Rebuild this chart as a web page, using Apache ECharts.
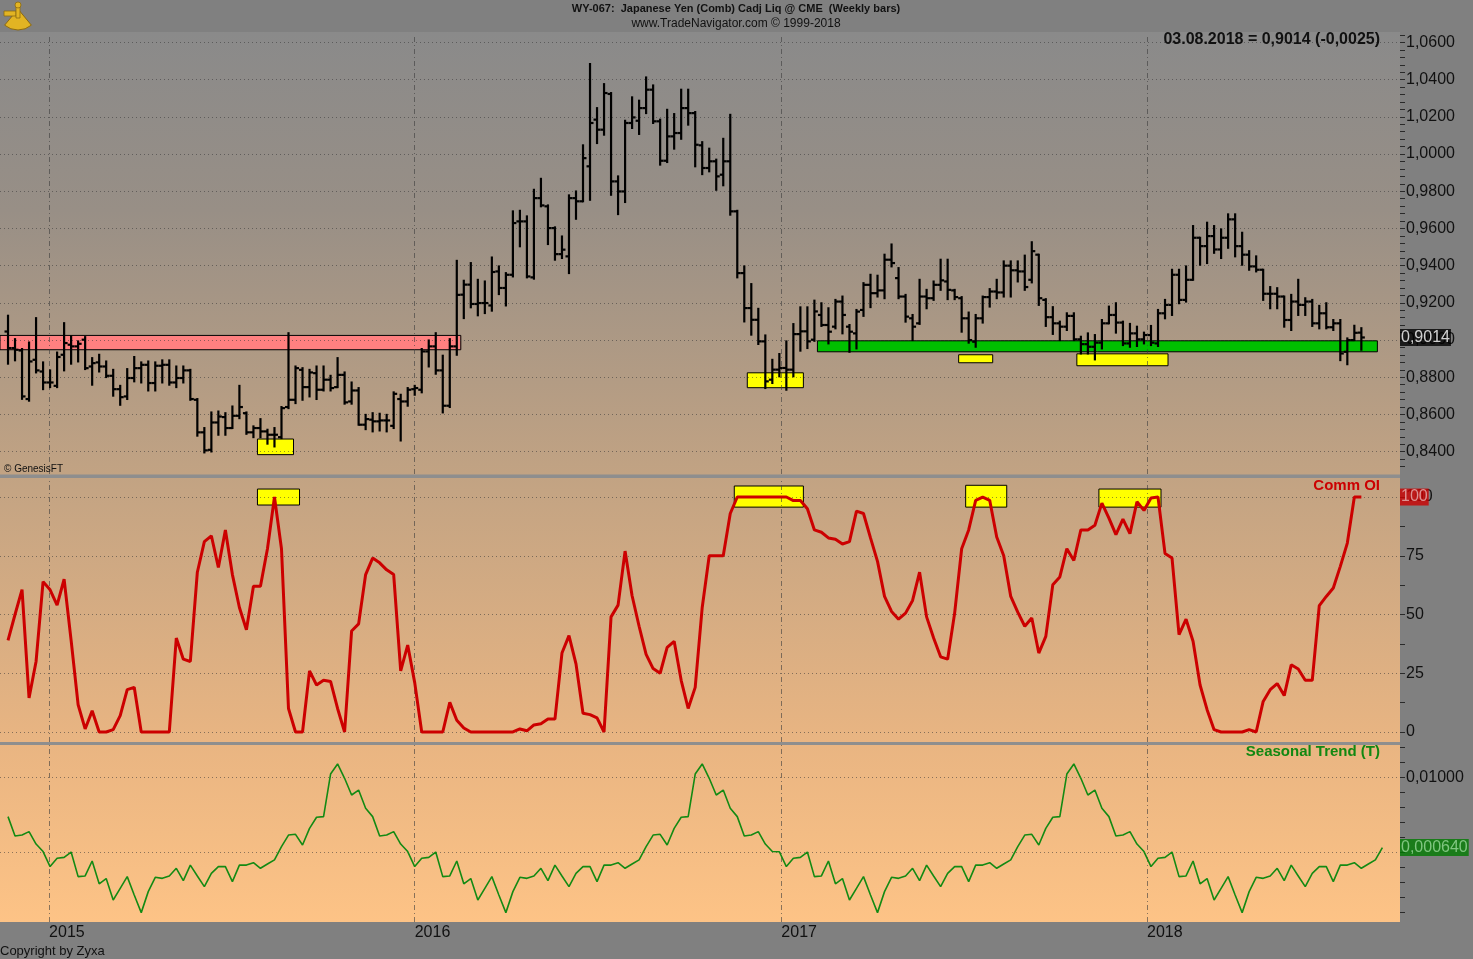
<!DOCTYPE html>
<html>
<head>
<meta charset="utf-8">
<title>WY-067 Japanese Yen (Comb) Cadj Liq @ CME</title>
<script src="https://cdn.jsdelivr.net/npm/echarts@6.0.0/dist/echarts.min.js"></script>
<style>
  html, body { margin: 0; padding: 0; background: #808080; }
  #chart { width: 1473px; height: 959px; }
</style>
</head>
<body>
<div id="chart"></div>
<script>
// weekly bars, first bar on this Friday
var firstWeek = '2014-11-21';

var open = [
  0.9046, 0.8957, 0.8944, 0.8683, 0.8894, 0.8831, 0.8772, 0.8754, 0.8921, 0.8975,
  0.8966, 0.9002, 0.8858, 0.8880, 0.8858, 0.8808, 0.8736, 0.8697, 0.8796, 0.8849,
  0.8867, 0.8769, 0.8862, 0.8867, 0.8772, 0.8796, 0.8837, 0.8679, 0.8504, 0.8410,
  0.8557, 0.8586, 0.8527, 0.8593, 0.8607, 0.8504, 0.8527, 0.8509, 0.8491, 0.8478,
  0.8640, 0.8679, 0.8840, 0.8747, 0.8822, 0.8733, 0.8787, 0.8747, 0.8813, 0.8670,
  0.8729, 0.8545, 0.8572, 0.8563, 0.8568, 0.8539, 0.8683, 0.8670, 0.8736, 0.8733,
  0.8939, 0.8966, 0.8837, 0.8647, 0.8966, 0.9244, 0.9298, 0.9194, 0.9199, 0.9186,
  0.9369, 0.9280, 0.9351, 0.9638, 0.9638, 0.9337, 0.9763, 0.9719, 0.9602, 0.9462,
  0.9450, 0.9763, 0.9746, 0.9934, 1.0185, 1.0131, 1.0323, 0.9853, 0.9799, 1.0167,
  1.0179, 1.0247, 1.0346, 1.0176, 0.9964, 1.0095, 1.0113, 1.0247, 1.0220, 1.0047,
  0.9925, 0.9961, 0.9889, 0.9961, 0.9692, 0.9360, 0.9172, 0.9109, 0.8993, 0.8787,
  0.8841, 0.8850, 0.8841, 0.9032, 0.9047, 0.9002, 0.9135, 0.9081, 0.9072, 0.9207,
  0.9072, 0.9036, 0.9162, 0.9297, 0.9252, 0.9267, 0.9432, 0.9333, 0.9234, 0.9117,
  0.9090, 0.9234, 0.9225, 0.9297, 0.9315, 0.9267, 0.9225, 0.9117, 0.8991, 0.9117,
  0.9231, 0.9261, 0.9256, 0.9400, 0.9375, 0.9369, 0.9324, 0.9459, 0.9216, 0.9123,
  0.9090, 0.9072, 0.9130, 0.9004, 0.8978, 0.8964, 0.8986, 0.9090, 0.9135, 0.9094,
  0.8982, 0.9036, 0.9004, 0.9027, 0.8982, 0.9144, 0.9189, 0.9351, 0.9216, 0.9324,
  0.9550, 0.9505, 0.9559, 0.9487, 0.9550, 0.9649, 0.9505, 0.9459, 0.9396, 0.9378,
  0.9249, 0.9249, 0.9234, 0.9108, 0.9207, 0.9189, 0.9207, 0.9090, 0.9144, 0.9069,
  0.9090, 0.8937, 0.9000, 0.9040
];
var high = [
  0.9131, 0.9005, 0.8952, 0.8987, 0.9118, 0.8880, 0.8837, 0.8933, 0.9091, 0.9020,
  0.8993, 0.9016, 0.8903, 0.8921, 0.8885, 0.8840, 0.8754, 0.8844, 0.8909, 0.8880,
  0.8885, 0.8880, 0.8891, 0.8891, 0.8858, 0.8858, 0.8840, 0.8683, 0.8527, 0.8611,
  0.8616, 0.8607, 0.8643, 0.8754, 0.8611, 0.8536, 0.8575, 0.8518, 0.8527, 0.8640,
  0.9037, 0.8858, 0.8849, 0.8840, 0.8858, 0.8858, 0.8808, 0.8903, 0.8826, 0.8772,
  0.8742, 0.8598, 0.8607, 0.8604, 0.8598, 0.8719, 0.8706, 0.8742, 0.8754, 0.8952,
  0.8998, 0.9037, 0.8916, 0.9005, 0.9426, 0.9319, 0.9414, 0.9324, 0.9315, 0.9444,
  0.9396, 0.9360, 0.9692, 0.9695, 0.9665, 0.9808, 0.9867, 0.9724, 0.9606, 0.9557,
  0.9778, 0.9799, 1.0047, 1.0484, 1.0247, 1.0376, 1.0328, 0.9880, 1.0179, 1.0305,
  1.0287, 1.0412, 1.0369, 1.0185, 1.0238, 1.0215, 1.0346, 1.0346, 1.0226, 1.0064,
  1.0029, 0.9970, 1.0082, 1.0211, 0.9695, 0.9396, 0.9301, 0.9168, 0.9025, 0.8894,
  0.8925, 0.8993, 0.9086, 0.9176, 0.9176, 0.9212, 0.9198, 0.9171, 0.9216, 0.9234,
  0.9081, 0.9162, 0.9306, 0.9351, 0.9346, 0.9459, 0.9514, 0.9387, 0.9243, 0.9135,
  0.9324, 0.9270, 0.9315, 0.9432, 0.9432, 0.9270, 0.9231, 0.9148, 0.9135, 0.9234,
  0.9274, 0.9324, 0.9423, 0.9423, 0.9423, 0.9454, 0.9526, 0.9459, 0.9220, 0.9177,
  0.9099, 0.9144, 0.9144, 0.9018, 0.9036, 0.9027, 0.9108, 0.9180, 0.9198, 0.9099,
  0.9087, 0.9072, 0.9040, 0.9076, 0.9162, 0.9216, 0.9378, 0.9378, 0.9396, 0.9613,
  0.9550, 0.9631, 0.9613, 0.9595, 0.9676, 0.9676, 0.9577, 0.9478, 0.9450, 0.9378,
  0.9285, 0.9279, 0.9234, 0.9243, 0.9324, 0.9225, 0.9216, 0.9184, 0.9198, 0.9108,
  0.9108, 0.9009, 0.9077, 0.9064
];
var low = [
  0.8873, 0.8891, 0.8684, 0.8674, 0.8826, 0.8736, 0.8747, 0.8747, 0.8837, 0.8873,
  0.8885, 0.8844, 0.8760, 0.8831, 0.8801, 0.8701, 0.8652, 0.8683, 0.8778, 0.8772,
  0.8729, 0.8729, 0.8772, 0.8760, 0.8747, 0.8772, 0.8679, 0.8486, 0.8396, 0.8401,
  0.8491, 0.8491, 0.8527, 0.8580, 0.8496, 0.8478, 0.8478, 0.8443, 0.8428, 0.8473,
  0.8634, 0.8661, 0.8679, 0.8697, 0.8683, 0.8729, 0.8729, 0.8747, 0.8658, 0.8658,
  0.8545, 0.8521, 0.8509, 0.8514, 0.8509, 0.8527, 0.8460, 0.8647, 0.8706, 0.8719,
  0.8858, 0.8819, 0.8611, 0.8640, 0.8921, 0.9118, 0.9176, 0.9133, 0.9145, 0.9158,
  0.9247, 0.9186, 0.9342, 0.9504, 0.9337, 0.9330, 0.9719, 0.9516, 0.9432, 0.9441,
  0.9360, 0.9652, 0.9746, 0.9754, 1.0059, 1.0104, 0.9781, 0.9677, 0.9742, 1.0140,
  1.0108, 1.0220, 1.0167, 0.9943, 0.9957, 1.0029, 1.0082, 1.0158, 0.9934, 0.9892,
  0.9907, 0.9808, 0.9832, 0.9674, 0.9337, 0.9100, 0.9029, 0.8979, 0.8742, 0.8769,
  0.8805, 0.8733, 0.8805, 0.8943, 0.8957, 0.8996, 0.9076, 0.8982, 0.9063, 0.9036,
  0.8937, 0.8955, 0.9130, 0.9177, 0.9234, 0.9225, 0.9396, 0.9225, 0.9099, 0.9000,
  0.9087, 0.9171, 0.9216, 0.9270, 0.9220, 0.9220, 0.9045, 0.8986, 0.8964, 0.9094,
  0.9180, 0.9225, 0.9234, 0.9234, 0.9315, 0.9270, 0.9310, 0.9189, 0.9076, 0.9033,
  0.9000, 0.9054, 0.9000, 0.8928, 0.8928, 0.8896, 0.8955, 0.9090, 0.9040, 0.8973,
  0.8964, 0.8968, 0.8982, 0.8973, 0.8968, 0.9117, 0.9135, 0.9198, 0.9207, 0.9324,
  0.9405, 0.9414, 0.9469, 0.9441, 0.9496, 0.9450, 0.9405, 0.9378, 0.9369, 0.9216,
  0.9171, 0.9171, 0.9072, 0.9054, 0.9135, 0.9135, 0.9076, 0.9063, 0.9063, 0.9054,
  0.8892, 0.8870, 0.9000, 0.8948
];
var close = [
  0.8957, 0.8948, 0.8697, 0.8885, 0.8837, 0.8772, 0.8772, 0.8909, 0.8984, 0.8966,
  0.8980, 0.8849, 0.8876, 0.8858, 0.8808, 0.8736, 0.8693, 0.8796, 0.8849, 0.8867,
  0.8769, 0.8862, 0.8867, 0.8772, 0.8796, 0.8837, 0.8683, 0.8504, 0.8407, 0.8557,
  0.8589, 0.8527, 0.8593, 0.8640, 0.8504, 0.8527, 0.8509, 0.8491, 0.8491, 0.8634,
  0.8679, 0.8849, 0.8747, 0.8826, 0.8733, 0.8787, 0.8742, 0.8813, 0.8665, 0.8729,
  0.8545, 0.8575, 0.8563, 0.8568, 0.8568, 0.8711, 0.8670, 0.8733, 0.8742, 0.8939,
  0.8966, 0.8837, 0.8647, 0.8966, 0.9243, 0.9298, 0.9194, 0.9199, 0.9199, 0.9366,
  0.9280, 0.9351, 0.9629, 0.9638, 0.9342, 0.9763, 0.9724, 0.9602, 0.9462, 0.9486,
  0.9763, 0.9746, 0.9978, 1.0167, 1.0131, 1.0328, 0.9853, 0.9799, 1.0167, 1.0197,
  1.0247, 1.0346, 1.0176, 0.9964, 1.0095, 1.0113, 1.0247, 1.0220, 1.0050, 0.9925,
  0.9961, 0.9880, 0.9961, 0.9692, 0.9360, 0.9172, 0.9109, 0.8993, 0.8778, 0.8841,
  0.8850, 0.8841, 0.9032, 0.9047, 0.8993, 0.9154, 0.9081, 0.9045, 0.9207, 0.9135,
  0.9045, 0.9153, 0.9297, 0.9252, 0.9267, 0.9432, 0.9414, 0.9234, 0.9126, 0.9072,
  0.9234, 0.9225, 0.9297, 0.9321, 0.9270, 0.9231, 0.9117, 0.9000, 0.9117, 0.9231,
  0.9261, 0.9256, 0.9400, 0.9375, 0.9369, 0.9285, 0.9478, 0.9225, 0.9123, 0.9090,
  0.9072, 0.9130, 0.9004, 0.8978, 0.8964, 0.8986, 0.9090, 0.9135, 0.9094, 0.8982,
  0.9036, 0.9004, 0.9027, 0.8986, 0.9144, 0.9189, 0.9351, 0.9216, 0.9324, 0.9550,
  0.9505, 0.9559, 0.9487, 0.9550, 0.9649, 0.9505, 0.9459, 0.9396, 0.9378, 0.9249,
  0.9249, 0.9234, 0.9108, 0.9207, 0.9189, 0.9207, 0.9090, 0.9144, 0.9069, 0.9090,
  0.8928, 0.9000, 0.9039, 0.9014
];

// Commercials open interest index (0..100)
var commOI = [
  39, 50, 60.6, 14.5, 30, 64, 60.5, 54, 65, 39,
  11.6, 1.3, 9, 0, 0, 1, 7, 18, 19, 0,
  0, 0, 0, 0, 40, 31, 30, 68, 81, 83.5,
  70, 86, 67, 53, 43.5, 62, 62, 78, 100, 78,
  10, 0, 0, 26, 20, 22, 21.5, 10, 0, 43,
  46, 67, 74, 72, 69, 67, 26, 37, 21, 0,
  0, 0, 0, 12.6, 5, 1.7, 0, 0, 0, 0,
  0, 0, 0, 1.3, 0.5, 3, 3.5, 5.5, 5.5, 33.6,
  41, 29, 8, 7.4, 6, 0, 49, 54, 77, 58,
  45, 33, 27, 25, 36, 38.6, 22, 10, 19, 53,
  75, 75, 75, 93, 100, 100, 100, 100, 100, 100,
  100, 100, 98.5, 98.5, 95, 86, 85, 82.6, 82, 80,
  81, 94, 93, 82.6, 72.6, 57.7, 51.3, 48, 50.6, 56,
  68, 49, 40, 32, 31, 50.6, 78, 86, 98.6, 100,
  98.6, 83, 75, 57.7, 51, 45, 48.5, 33.6, 40.7, 62.7,
  66, 78, 73, 86, 86, 88, 97.4, 91, 84, 90.6,
  84.4, 98, 94.3, 99.6, 100, 76, 74, 41.4, 48, 38.6,
  20, 9.5, 1, 0, 0, 0, 0, 1, 0, 13,
  18, 20.6, 15.5, 28.6, 26.8, 22, 22, 53.8, 57.7, 61.3,
  70.5, 80.4, 100, 100
];

// Seasonal trend, one value per week (runs a few weeks past the last bar)
var seasonal2015 = [
  0.00476, 0.00218, 0.00230, 0.00276, 0.00110, 0.00010, -0.00190, -0.00080, -0.00067, 0.00004,
  -0.00324, -0.00315, -0.00116, -0.00420, -0.00350, -0.00636, -0.00480, -0.00324, -0.00570, -0.00804,
  -0.00524, -0.00333, -0.00347, -0.00315, -0.00213, -0.00378, -0.00170, -0.00315, -0.00458, -0.00280,
  -0.00190, -0.00190, -0.00390, -0.00170, -0.00170, -0.00138, -0.00213, -0.00156, -0.00100, 0.00076,
  0.00230, 0.00240, 0.00098, 0.00320, 0.00467, 0.00476, 0.01044, 0.01178, 0.00987, 0.00764,
  0.00830, 0.00587
];
var seasonal2016 = [
  0.00476, 0.00218, 0.00230, 0.00276, 0.00110, 0.00010, -0.00190, -0.00080, -0.00067, 0.00004,
  -0.00324, -0.00315, -0.00116, -0.00420, -0.00350, -0.00636, -0.00480, -0.00324, -0.00570, -0.00804,
  -0.00524, -0.00333, -0.00347, -0.00315, -0.00213, -0.00378, -0.00170, -0.00315, -0.00458, -0.00280,
  -0.00190, -0.00190, -0.00390, -0.00170, -0.00170, -0.00138, -0.00213, -0.00156, -0.00100, 0.00076,
  0.00230, 0.00240, 0.00098, 0.00320, 0.00467, 0.00476, 0.01044, 0.01178, 0.00987, 0.00764,
  0.00830, 0.00587
];
var seasonal2017 = [
  0.00476, 0.00218, 0.00230, 0.00276, 0.00110, 0.00010, 0.00008, -0.00190, -0.00080, -0.00067,
  0.00004, -0.00324, -0.00315, -0.00116, -0.00420, -0.00350, -0.00636, -0.00480, -0.00324, -0.00570,
  -0.00804, -0.00524, -0.00333, -0.00347, -0.00315, -0.00213, -0.00378, -0.00170, -0.00315, -0.00458,
  -0.00280, -0.00190, -0.00190, -0.00390, -0.00170, -0.00170, -0.00138, -0.00213, -0.00156, -0.00100,
  0.00076, 0.00230, 0.00240, 0.00098, 0.00320, 0.00467, 0.00476, 0.01044, 0.01178, 0.00987,
  0.00764, 0.00830, 0.00587
];
var seasonal2018 = [
  0.00476, 0.00218, 0.00230, 0.00276, 0.00110, 0.00010, -0.00190, -0.00080, -0.00067, 0.00004,
  -0.00324, -0.00315, -0.00116, -0.00420, -0.00350, -0.00636, -0.00480, -0.00324, -0.00570, -0.00804,
  -0.00524, -0.00333, -0.00347, -0.00315, -0.00213, -0.00378, -0.00170, -0.00315, -0.00458, -0.00280,
  -0.00190, -0.00190, -0.00390, -0.00170, -0.00170, -0.00138, -0.00213, -0.00156, -0.00100, 0.00064
];
var seasonal = seasonal2015.concat(seasonal2016, seasonal2017, seasonal2018);

// axis ticks and labels
var yearTicks = ['2015-01-01', '2016-01-01', '2017-01-01', '2018-01-01'];
var priceTicks = [0.84, 0.86, 0.88, 0.90, 0.92, 0.94, 0.96, 0.98, 1.00, 1.02, 1.04, 1.06];
var oiTicks = [0, 25, 50, 75, 100];
var seasonalTicks = [0.01];
var seasonalGrid = [0, 0.01];

// highlighted zones: [from, to, bottom, top]
var resistanceZone = ['2014-11-13', '2016-02-16', 0.8948, 0.9025];
var supportZone = ['2017-02-06', '2018-08-19', 0.8937, 0.8996];
var priceMarks = [
  ['2015-07-28', '2015-09-02', 0.8384, 0.8468],
  ['2016-11-28', '2017-01-23', 0.8744, 0.8824],
  ['2017-06-27', '2017-07-31', 0.8878, 0.8921],
  ['2017-10-23', '2018-01-22', 0.8862, 0.8926]
];
var oiMarks = [
  ['2015-07-28', '2015-09-08', 96.6, 103.4],
  ['2016-11-15', '2017-01-23', 95.7, 104.7],
  ['2017-07-04', '2017-08-14', 95.7, 105.0],
  ['2017-11-14', '2018-01-15', 95.7, 103.4]
];

var FONT = 'Liberation Sans, Arial, sans-serif';
var DAY = 86400000;

function utc(s) {
  var p = s.split('-');
  return Date.UTC(+p[0], +p[1] - 1, +p[2]);
}
function comma(v, d) {
  return v.toFixed(d).replace('.', ',');
}
function steps(from, to, step) {
  var a = [];
  for (var v = from; v <= to + step / 2; v += step) a.push(+v.toFixed(6));
  return a;
}

var t0 = utc(firstWeek);
var weeks = [];
for (var i = 0; i < seasonal.length; i++) weeks.push(t0 + i * 7 * DAY);

var xMin = Date.UTC(2014, 10, 13);
var xMax = Date.UTC(2018, 8, 10, 14);
var yearTimes = yearTicks.map(utc);

var bars = [];
for (var j = 0; j < close.length; j++) {
  bars.push([weeks[j], open[j], high[j], low[j], close[j]]);
}
var oiData = commOI.map(function (v, k) { return [weeks[k], v]; });
var seasonalData = seasonal.map(function (v, k) { return [weeks[k], v]; });

var lastClose = close[close.length - 1];
var lastChange = lastClose - close[close.length - 2];
var lastOI = commOI[commOI.length - 1];
var lastSeasonal = seasonal[seasonal.length - 1];

var dotted = { type: [1, 3], color: 'rgba(55,55,55,0.55)', width: 1 };
var dashDot = { type: [5, 3, 1, 3], color: 'rgba(60,60,60,0.6)', width: 1 };

function gridLines(values) {
  return values.map(function (v) { return { yAxis: v, lineStyle: dotted }; })
    .concat(yearTimes.map(function (t) { return { xAxis: t, lineStyle: dashDot }; }));
}
function zone(z, color) {
  return [
    { xAxis: utc(z[0]), yAxis: z[3], itemStyle: { color: color, borderColor: '#000', borderWidth: 1 } },
    { xAxis: utc(z[1]), yAxis: z[2] }
  ];
}

function helper(idx, lines, areas) {
  return {
    type: 'line', xAxisIndex: idx, yAxisIndex: idx, data: [], z: 1, silent: true,
    markLine: { silent: true, symbol: ['none', 'none'], label: { show: false }, animation: false, data: lines },
    markArea: areas ? { silent: true, animation: false, data: areas } : undefined
  };
}

function valueBox(idx, y, text, bg, fg) {
  return {
    type: 'scatter', xAxisIndex: idx, yAxisIndex: idx, data: [[xMax, y]],
    symbolSize: 0, clip: false, silent: true, z: 20,
    label: {
      show: true, position: 'right', distance: 0, formatter: text,
      backgroundColor: bg, color: fg, fontSize: 16, fontFamily: FONT,
      padding: [1, 1, 0, 1], lineHeight: 16
    }
  };
}

function xAxis(idx, showLabel) {
  return {
    type: 'value', gridIndex: idx, min: xMin, max: xMax,
    axisLine: { show: false }, axisTick: { show: false }, splitLine: { show: false },
    axisLabel: showLabel ? {
      customValues: yearTimes, align: 'left', margin: 3, color: '#111', fontSize: 16, fontFamily: FONT,
      formatter: function (v) { return String(new Date(v).getUTCFullYear()); }
    } : { show: false }
  };
}

function yAxis(idx, min, max, labels, minor, fmt) {
  return {
    type: 'value', gridIndex: idx, position: 'right', min: min, max: max,
    axisLine: { show: false }, splitLine: { show: false },
    axisTick: { show: true, customValues: minor, length: 5, lineStyle: { color: '#2a2a2a' } },
    axisLabel: { customValues: labels, formatter: fmt, margin: 6, color: '#111', fontSize: 16, fontFamily: FONT }
  };
}

var gold = '#e2b423';
var goldEdge = '#8c6a12';

var chart = echarts.init(document.getElementById('chart'), null, { renderer: 'canvas' });

var option = {
  backgroundColor: '#808080',
  animation: false,
  grid: [
    { left: 0, right: 73, top: 35, height: 439 },
    { left: 0, right: 73, top: 478, height: 264 },
    { left: 0, right: 73, top: 745, height: 177 }
  ],
  xAxis: [xAxis(0, false), xAxis(1, false), xAxis(2, true)],
  yAxis: [
    yAxis(0, 0.828, 1.064, priceTicks, steps(0.832, 1.064, 0.004), function (v) { return comma(v, 4); }),
    yAxis(1, -4.26, 108.1, oiTicks, steps(0, 100, 12.5), function (v) { return String(Math.round(v)); }),
    yAxis(2, -0.00929, 0.01431, seasonalTicks, steps(-0.008, 0.014, 0.002), function (v) { return comma(v, 5); })
  ],
  graphic: [
    {
      type: 'rect', z: -10, silent: true,
      shape: { x: 0, y: 32, width: 1400, height: 890 },
      style: {
        fill: new echarts.graphic.LinearGradient(0, 0, 0, 1, [
          { offset: 0, color: '#8a8a8a' },
          { offset: 0.2, color: '#988f86' },
          { offset: 0.5, color: '#c2a383' },
          { offset: 0.8, color: '#e9b582' },
          { offset: 1, color: '#fdc386' }
        ])
      }
    },
    { type: 'rect', z: -9, silent: true, shape: { x: 0, y: 474.5, width: 1400, height: 3.5 }, style: { fill: '#8e8e8e' } },
    { type: 'rect', z: -9, silent: true, shape: { x: 0, y: 742, width: 1400, height: 3 }, style: { fill: '#8e8e8e' } },
    // small gold sextant logo
    {
      type: 'group', z: 100, silent: true,
      children: [
        { type: 'sector', shape: { cx: 18, cy: 9, r0: 0, r: 21, startAngle: Math.PI * 0.28, endAngle: Math.PI * 0.72 },
          style: { fill: gold, stroke: goldEdge, lineWidth: 1 } },
        { type: 'rect', shape: { x: 4, y: 11, width: 12, height: 5 }, style: { fill: gold, stroke: goldEdge, lineWidth: 0.8 } },
        { type: 'rect', shape: { x: 16, y: 3, width: 4, height: 15 }, style: { fill: gold, stroke: goldEdge, lineWidth: 0.8 } },
        { type: 'circle', shape: { cx: 18, cy: 5, r: 3 }, style: { fill: gold, stroke: goldEdge, lineWidth: 0.8 } }
      ]
    },
    {
      type: 'text', z: 100, x: 736, y: 9,
      style: { text: 'WY-067:  Japanese Yen (Comb) Cadj Liq @ CME  (Weekly bars)', font: 'bold 11px ' + FONT, fill: '#111', textAlign: 'center', textVerticalAlign: 'middle' }
    },
    {
      type: 'text', z: 100, x: 736, y: 24,
      style: { text: 'www.TradeNavigator.com \u00a9 1999-2018', font: '12px ' + FONT, fill: '#111', textAlign: 'center', textVerticalAlign: 'middle' }
    },
    {
      type: 'text', z: 100, x: 1380, y: 40,
      style: {
        text: '03.08.2018 = ' + comma(lastClose, 4) + ' (' + comma(lastChange, 4) + ')',
        font: 'bold 16px ' + FONT, fill: '#111', textAlign: 'right', textVerticalAlign: 'middle'
      }
    },
    {
      type: 'text', z: 100, x: 4, y: 469,
      style: { text: '\u00a9 GenesisFT', font: '10px ' + FONT, fill: '#111', textAlign: 'left', textVerticalAlign: 'middle' }
    },
    {
      type: 'text', z: 100, x: 1380, y: 486,
      style: { text: 'Comm OI', font: 'bold 15px ' + FONT, fill: '#cc0000', textAlign: 'right', textVerticalAlign: 'middle' }
    },
    {
      type: 'text', z: 100, x: 1380, y: 752,
      style: { text: 'Seasonal Trend (T)', font: 'bold 15px ' + FONT, fill: '#118811', textAlign: 'right', textVerticalAlign: 'middle' }
    },
    {
      type: 'text', z: 100, x: 0, y: 951,
      style: { text: 'Copyright by Zyxa', font: '13px ' + FONT, fill: '#111', textAlign: 'left', textVerticalAlign: 'middle' }
    }
  ],
  series: [
    helper(0, gridLines(priceTicks),
      [zone(resistanceZone, '#ff8080'), zone(supportZone, '#00c000')]
        .concat(priceMarks.map(function (m) { return zone(m, '#ffff00'); }))),
    {
      type: 'custom', name: 'Weekly bars', xAxisIndex: 0, yAxisIndex: 0, z: 10,
      data: bars,
      encode: { x: 0, y: [1, 2, 3, 4] },
      renderItem: function (params, api) {
        var t = api.value(0);
        var o = api.coord([t, api.value(1)]);
        var h = api.coord([t, api.value(2)]);
        var l = api.coord([t, api.value(3)]);
        var c = api.coord([t, api.value(4)]);
        var st = { stroke: '#000', lineWidth: 2.2 };
        return {
          type: 'group',
          children: [
            { type: 'line', shape: { x1: h[0], y1: h[1] - 1, x2: l[0], y2: l[1] + 1 }, style: st },
            { type: 'line', shape: { x1: o[0] - 3.5, y1: o[1], x2: o[0], y2: o[1] }, style: st },
            { type: 'line', shape: { x1: c[0], y1: c[1], x2: c[0] + 3.5, y2: c[1] }, style: st }
          ]
        };
      }
    },
    helper(1, gridLines(oiTicks), oiMarks.map(function (m) { return zone(m, '#ffff00'); })),
    {
      type: 'line', name: 'Comm OI', xAxisIndex: 1, yAxisIndex: 1, z: 10,
      data: oiData, showSymbol: false, symbol: 'none',
      lineStyle: { color: '#cc0000', width: 3 }
    },
    helper(2, gridLines(seasonalGrid)),
    {
      type: 'line', name: 'Seasonal Trend (T)', xAxisIndex: 2, yAxisIndex: 2, z: 10,
      data: seasonalData, showSymbol: false, symbol: 'none',
      lineStyle: { color: '#138a13', width: 1.6 }
    },
    valueBox(0, lastClose, comma(lastClose, 4), '#000000', '#ffffff'),
    valueBox(1, lastOI, String(lastOI), '#cc0000', '#e6b0b0'),
    valueBox(2, lastSeasonal, comma(lastSeasonal, 6), '#007a00', '#9ad89a')
  ]
};

chart.setOption(option);
</script>
</body>
</html>
